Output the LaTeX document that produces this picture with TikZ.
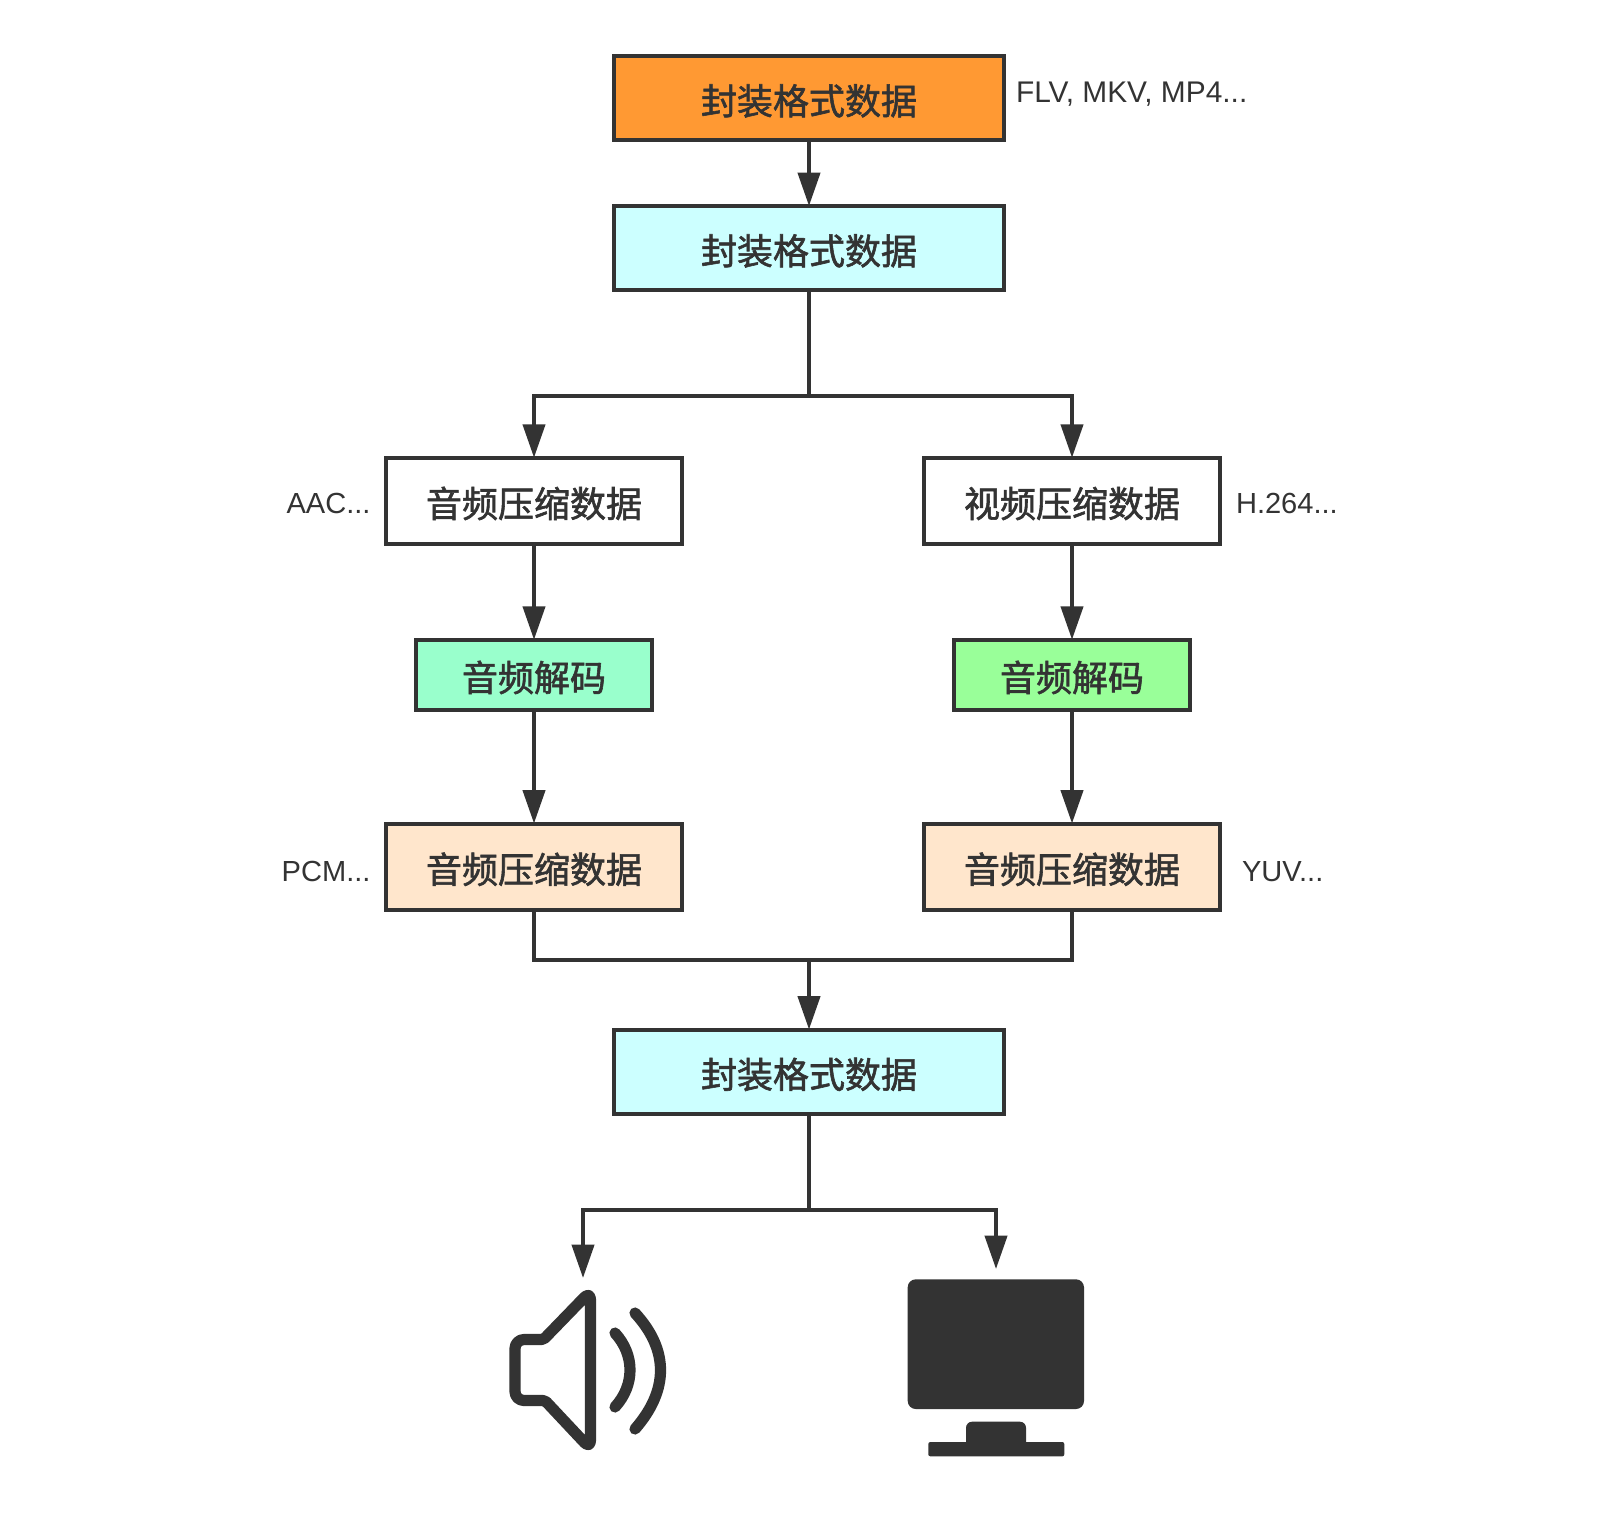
\documentclass[tikz,border=0pt]{standalone}
\usepackage{fontspec}
\usetikzlibrary{arrows.meta}
\setmainfont{Liberation Sans}
\newfontfamily\cjk[RawFeature={embolden=1.6}]{Noto Sans CJK SC}
\definecolor{ink}{HTML}{333333}
\definecolor{orangefill}{HTML}{FF9933}
\definecolor{cyanfill}{HTML}{CCFFFF}
\definecolor{mintfill}{HTML}{99FFCC}
\definecolor{greenfill}{HTML}{99FF99}
\definecolor{peachfill}{HTML}{FFE6CC}
\tikzset{
  box/.style={draw=ink,line width=3pt,inner sep=0pt,outer sep=0pt,text=ink,
    font=\cjk\fontsize{27pt}{27pt}\selectfont,text height=24.75pt,text depth=0pt,align=center},
  widebox/.style={box,minimum width=292.5pt,minimum height=63pt},
  databox/.style={box,minimum width=222pt,minimum height=64.5pt},
  codecbox/.style={box,minimum width=177pt,minimum height=52.5pt},
  wire/.style={draw=ink,line width=3pt},
  conn/.style={wire,-{Triangle[length=25pt,width=16.5pt]}},
  tag/.style={text=ink,font=\fontsize{21.8pt}{21.8pt}\selectfont,inner sep=0pt,outer sep=0pt},
  spk/.style={draw=ink,line width=8.4pt,line join=round,line cap=round},
}
\begin{document}
\begin{tikzpicture}[x=0.75pt,y=-0.75pt]
\useasboundingbox[fill=white] (0,0) rectangle (1612,1522);

\node[widebox,fill=orangefill] (src) at (809,98) {封装格式数据};
\node[widebox,fill=cyanfill] (demux) at (809,248) {封装格式数据};
\node[databox,fill=white] (acomp) at (534,500.7) {音频压缩数据};
\node[databox,fill=white] (vcomp) at (1072,500.7) {视频压缩数据};
\node[codecbox,fill=mintfill] (adec) at (534,674.7) {音频解码};
\node[codecbox,fill=greenfill] (vdec) at (1072,674.7) {音频解码};
\node[databox,fill=peachfill] (araw) at (534,866.5) {音频压缩数据};
\node[databox,fill=peachfill] (vraw) at (1072,866.5) {音频压缩数据};
\node[widebox,fill=cyanfill] (sync) at (809,1071.5) {封装格式数据};

\node[tag,anchor=base west,font=\fontsize{22.4pt}{22.4pt}\selectfont] (tflv) at (1016,102) {FLV, MKV, MP4...};
\node[tag,anchor=base east] (taac) at (370.5,513) {AAC...};
\node[tag,anchor=base west] (th) at (1236,513) {H.264...};
\node[tag,anchor=base east] (tpcm) at (370.5,881.7) {PCM...};
\node[tag,anchor=base west] (tyuv) at (1242,881.7) {YUV...};

\coordinate (splitA) at (809,396);
\coordinate (mergeB) at (809,960);
\coordinate (splitC) at (809,1210);
\coordinate (spkin) at (583,1278);
\coordinate (monin) at (996,1269);

\draw[conn] (src.south) -- (demux.north);
\draw[wire] (demux.south) -- (splitA);
\draw[conn] (splitA) -| (acomp.north);
\draw[conn] (splitA) -| (vcomp.north);
\draw[conn] (acomp.south) -- (adec.north);
\draw[conn] (vcomp.south) -- (vdec.north);
\draw[conn] (adec.south) -- (araw.north);
\draw[conn] (vdec.south) -- (vraw.north);
\draw[wire] (araw.south) |- (mergeB) -| (vraw.south);
\draw[conn] (mergeB) -- (sync.north);
\draw[wire] (sync.south) -- (splitC);
\draw[conn] (splitC) -| (spkin);
\draw[conn] (splitC) -| (monin);

% speaker
\draw[spk] (590.5,1370) [rounded corners=6.75pt] -- (590.5,1291) [rounded corners=1.5pt] -- (543.5,1339.5) [rounded corners=6.75pt] -- (515,1339.5) -- (515,1400.5) [rounded corners=1.5pt] -- (545,1400.5) [rounded corners=6.75pt] -- (590.5,1449) -- cycle;
\draw[spk] (615,1333) .. controls (635,1355) and (635,1385) .. (615,1407);
\draw[spk] (635,1313) .. controls (669,1350) and (669,1390) .. (635,1429);

% monitor
\fill[ink,rounded corners=6pt] (907.7,1279.3) rectangle (1084,1409);
\fill[ink,rounded corners=4.5pt] (966,1421.7) rectangle (1026,1450);
\fill[ink,rounded corners=1.5pt] (928.3,1442) rectangle (1064.3,1456.3);
\end{tikzpicture}
\end{document}
